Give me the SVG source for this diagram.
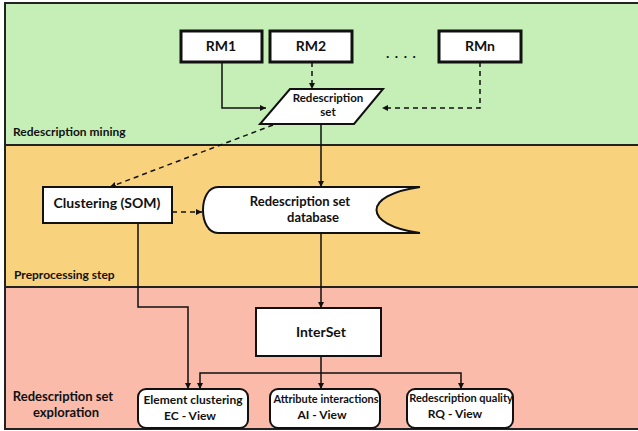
<svg xmlns="http://www.w3.org/2000/svg" width="638" height="431" viewBox="0 0 638 431">
<defs>
<style>
.t{font-family:Lato,"Liberation Sans",sans-serif;font-weight:bold;fill:#111;}
.c{text-anchor:middle;}
.box{fill:#fff;stroke:#111;stroke-width:2;}
.rm{fill:#fff;stroke:#111;stroke-width:3;}
.ln{fill:none;stroke:#111;stroke-width:1.5;}
.ds{fill:none;stroke:#111;stroke-width:1.5;stroke-dasharray:5 4;}
</style>
<marker id="ah" viewBox="0 0 10 10" refX="10" refY="5" markerWidth="6" markerHeight="6" markerUnits="userSpaceOnUse" orient="auto">
<path d="M0 0 L10 5 L0 10 Z" fill="#111"/>
</marker>
</defs>
<g id="bands">
<rect x="5" y="3" width="640" height="142" fill="#c6efb7"/>
<rect x="5" y="145" width="640" height="142" fill="#f9d27e"/>
<rect x="5" y="287" width="640" height="142" fill="#fabbaa"/>
<path d="M645 3 H5 V429 H645" fill="none" stroke="#222" stroke-width="2"/>
<line x1="5" y1="145" x2="645" y2="145" stroke="#222" stroke-width="2"/>
<line x1="5" y1="287" x2="645" y2="287" stroke="#222" stroke-width="2"/>
<text class="t" x="13" y="136" font-size="12">Redescription mining</text>
<text class="t" x="14" y="279" font-size="12">Preprocessing step</text>
<text class="t c" x="63" y="401" font-size="13">Redescription set</text>
<text class="t c" x="66" y="417" font-size="13">exploration</text>
</g>
<g id="connectors">
<path class="ln" d="M222 62 V108 H266" marker-end="url(#ah)"/>
<path class="ds" d="M312 62 V89" marker-end="url(#ah)"/>
<path class="ds" d="M480 62 V108 H382" marker-end="url(#ah)"/>
<path class="ds" d="M273 125 L110 187" marker-end="url(#ah)"/>
<path class="ln" d="M321 124 V187" marker-end="url(#ah)"/>
<path class="ds" d="M172 212 H202" marker-end="url(#ah)"/>
<path class="ln" d="M138 223 V307 H188 V389" marker-end="url(#ah)"/>
<path class="ln" d="M321 233 V308" marker-end="url(#ah)"/>
<path class="ln" d="M321 356 V389" marker-end="url(#ah)"/>
<path class="ln" d="M321 373 H200 V389" marker-end="url(#ah)"/>
<path class="ln" d="M321 373 H461 V389" marker-end="url(#ah)"/>
</g>
<g id="rm1"><rect class="rm" x="181" y="31" width="81" height="31"/><text class="t c" x="221" y="51" font-size="14">RM1</text></g>
<g id="rm2"><rect class="rm" x="270" y="31" width="82" height="31"/><text class="t c" x="311" y="51" font-size="14">RM2</text></g>
<g id="dots"><text class="t" x="386" y="58" font-size="14" letter-spacing="5.5">....</text></g>
<g id="rmn"><rect class="rm" x="439" y="31" width="82" height="31"/><text class="t c" x="480" y="51" font-size="14">RMn</text></g>
<g id="redescription-set"><path class="box" d="M290 89 H383 L354 124 H260 Z"/><text class="t c" x="328" y="102" font-size="11.5">Redescription</text><text class="t c" x="328" y="116" font-size="11.5">set</text></g>
<g id="clustering"><rect class="box" x="43" y="187" width="129" height="36"/><text class="t c" x="107" y="208" font-size="14">Clustering (SOM)</text></g>
<g id="database"><path class="box" d="M218 187 L420 187 C362 195 362 225 420 233 L218 233 C198 233 198 187 218 187 Z"/><text class="t c" x="300" y="206" font-size="13">Redescription set</text><text class="t c" x="313" y="222" font-size="13">database</text></g>
<g id="interset"><rect class="box" x="256" y="308" width="125" height="48"/><text class="t c" x="321" y="337" font-size="14">InterSet</text></g>
<g id="ec-view"><rect class="box" x="138" y="389" width="110" height="39" rx="8"/><text class="t c" x="193" y="404" font-size="12">Element clustering</text><text class="t c" x="190" y="420" font-size="12">EC - View</text></g>
<g id="ai-view"><rect class="box" x="270" y="389" width="110" height="39" rx="8"/><text class="t c" x="326" y="403" font-size="11">Attribute interactions</text><text class="t c" x="322" y="419" font-size="12">AI - View</text></g>
<g id="rq-view"><rect class="box" x="407" y="389" width="106" height="39" rx="8"/><text class="t c" x="461" y="402" font-size="11">Redescription quality</text><text class="t c" x="455" y="418" font-size="12">RQ - View</text></g>
</svg>
